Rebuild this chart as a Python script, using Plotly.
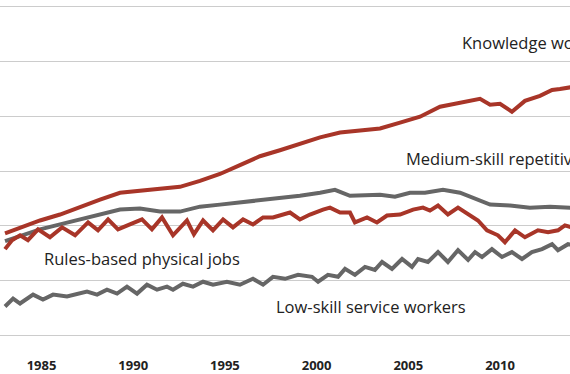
import plotly.graph_objects as go

# Knowledge workers (millions)
know_years = [1983.01, 1983.83, 1984.92, 1986.01, 1987.10, 1988.19, 1989.28, 1990.37, 1991.46, 1992.55,
              1993.64, 1994.73, 1995.82, 1996.91, 1998.00, 1999.09, 2000.19, 2001.28, 2002.37, 2003.46,
              2004.55, 2005.64, 2006.73, 2007.82, 2008.91, 2009.46, 2010.00, 2010.65, 2011.36, 2012.18,
              2012.84, 2013.27, 2013.82, 2014.2]
know_vals = [28.62, 29.70, 30.96, 32.05, 33.31, 34.76, 36.03, 36.39, 36.57, 37.11,
             38.19, 39.46, 41.09, 42.71, 43.80, 45.06, 46.15, 47.05, 47.41, 47.77,
             48.86, 49.94, 51.75, 52.47, 53.19, 52.11, 52.29, 50.84, 52.83, 53.74,
             54.82, 55.00, 55.36, 55.5]

# Medium-skill repetitive
med_years = [1983.01, 1983.83, 1984.92, 1986.01, 1987.10, 1988.19, 1989.28, 1990.37, 1991.46, 1992.55,
             1993.64, 1994.73, 1995.82, 1996.91, 1998.00, 1999.09, 2000.19, 2001.00, 2001.82, 2002.64,
             2003.46, 2004.27, 2005.09, 2005.91, 2006.89, 2007.82, 2008.75, 2009.46, 2010.55, 2011.63,
             2012.73, 2013.82, 2014.2]
med_vals = [27.17, 28.07, 29.34, 30.24, 31.15, 32.05, 32.95, 33.13, 32.59, 32.59,
            33.49, 33.86, 34.22, 34.76, 35.12, 35.48, 36.03, 36.57, 35.48, 35.48,
            35.66, 35.30, 36.03, 36.03, 36.57, 36.03, 34.76, 33.86, 33.68, 33.31,
            33.49, 33.13, 33.2]

# Rules-based physical jobs
rules_years = [1983.01, 1983.39, 1983.83, 1984.26, 1984.81, 1985.46, 1986.12, 1986.83, 1987.54, 1988.08,
               1988.63, 1989.17, 1989.82, 1990.48, 1991.02, 1991.57, 1992.17, 1992.93, 1993.31, 1993.81,
               1994.35, 1994.90, 1995.44, 1995.99, 1996.53, 1997.08, 1997.62, 1998.17, 1998.55, 1999.09,
               1999.64, 2000.35, 2000.73, 2001.28, 2001.82, 2002.09, 2002.75, 2003.29, 2003.84, 2004.55,
               2005.26, 2005.80, 2006.18, 2006.62, 2007.16, 2007.71, 2008.26, 2008.80, 2009.29, 2009.89,
               2010.27, 2010.82, 2011.36, 2012.07, 2012.62, 2013.16, 2013.54, 2013.82, 2014.2]
rules_vals = [25.72, 27.35, 28.25, 27.35, 29.34, 27.89, 29.70, 28.25, 30.60, 29.16,
              31.15, 29.34, 30.24, 31.15, 29.34, 31.51, 28.25, 30.96, 28.43, 30.96,
              29.16, 31.15, 29.70, 31.15, 30.24, 31.51, 31.51, 32.05, 32.41, 31.15,
              32.05, 32.95, 33.31, 32.41, 32.41, 30.60, 31.51, 30.60, 31.87, 32.05,
              32.95, 33.31, 32.77, 33.68, 32.05, 33.31, 32.05, 30.96, 29.16, 28.25,
              26.99, 29.16, 27.89, 29.16, 28.80, 29.16, 30.06, 29.70, 29.4]

# Low-skill service workers
low_years = [1983.01, 1983.45, 1983.83, 1984.54, 1985.08, 1985.63, 1986.39, 1986.94, 1987.48, 1988.03,
             1988.57, 1989.12, 1989.66, 1990.21, 1990.75, 1991.30, 1991.84, 1992.17, 1992.71, 1993.26,
             1993.81, 1994.35, 1995.11, 1995.82, 1996.53, 1997.08, 1997.62, 1998.28, 1998.99, 1999.75,
             2000.08, 2000.62, 2001.17, 2001.55, 2002.09, 2002.64, 2003.18, 2003.57, 2004.11, 2004.66,
             2005.20, 2005.53, 2006.07, 2006.62, 2007.16, 2007.71, 2008.26, 2008.64, 2009.02, 2009.56,
             2010.11, 2010.65, 2011.20, 2011.74, 2012.29, 2012.84, 2013.16, 2013.71, 2014.2]
low_vals = [15.24, 16.69, 15.78, 17.41, 16.51, 17.41, 17.05, 17.59, 17.95, 17.41,
            18.31, 17.59, 18.86, 17.59, 19.22, 18.31, 18.86, 18.31, 19.40, 18.86,
            19.76, 19.22, 19.76, 19.22, 20.30, 19.22, 20.66, 20.30, 21.02, 20.66,
            19.76, 21.02, 20.66, 22.11, 21.02, 22.47, 21.93, 23.37, 22.11, 23.92,
            22.47, 23.92, 23.37, 25.18, 23.37, 25.54, 23.74, 25.18, 24.28, 25.72,
            24.28, 25.18, 23.92, 25.18, 25.72, 26.63, 25.54, 26.63, 26.4]

tick_years = [1985, 1990, 1995, 2000, 2005, 2010]
grid_vals = [10, 20, 30, 40, 50, 60, 70]

labels = ["Knowledge workers", "Medium-skill repetitive workers",
          "Rules-based physical jobs", "Low-skill service workers"]
label_x = [2007.82, 2004.77, 1985.0, 1997.68]
label_y = [63.5, 42.35, 23.92, 15.24]

RED = "#a83528"
GREY = "#666666"
FONT = "Open Sans"

fig = go.Figure()
series = [(know_years, know_vals, RED), (med_years, med_vals, GREY),
          (rules_years, rules_vals, RED), (low_years, low_vals, GREY)]
for xs, ys, c in series:
    fig.add_trace(go.Scatter(x=xs, y=ys, mode="lines",
                             line=dict(color=c, width=4), hoverinfo="skip"))

for t, x, y in zip(labels, label_x, label_y):
    fig.add_annotation(x=x, y=y, xref="x", yref="y", text=t, showarrow=False,
                       xanchor="left", yanchor="middle",
                       font=dict(family=FONT, size=16.5, color="#222222"))

fig.update_layout(
    width=570, height=374,
    margin=dict(l=0, r=0, t=2, b=24),
    paper_bgcolor="white", plot_bgcolor="white",
    showlegend=False,
    xaxis=dict(range=[1982.737, 2013.817], tickvals=tick_years,
               ticktext=[str(v) for v in tick_years], showgrid=False,
               zeroline=False, showline=False, ticks="outside", ticklen=7,
               tickcolor="rgba(0,0,0,0)",
               tickfont=dict(family=FONT, size=13, color="#222222", weight="bold")),
    yaxis=dict(range=[8.012, 70.904], tickvals=grid_vals, showticklabels=False,
               showgrid=True, gridcolor="#cccccc", gridwidth=1, zeroline=False,
               showline=False, ticks=""),
)

fig.write_html("out.html", config={"displayModeBar": False},
               post_script="document.body.style.margin='0';")
